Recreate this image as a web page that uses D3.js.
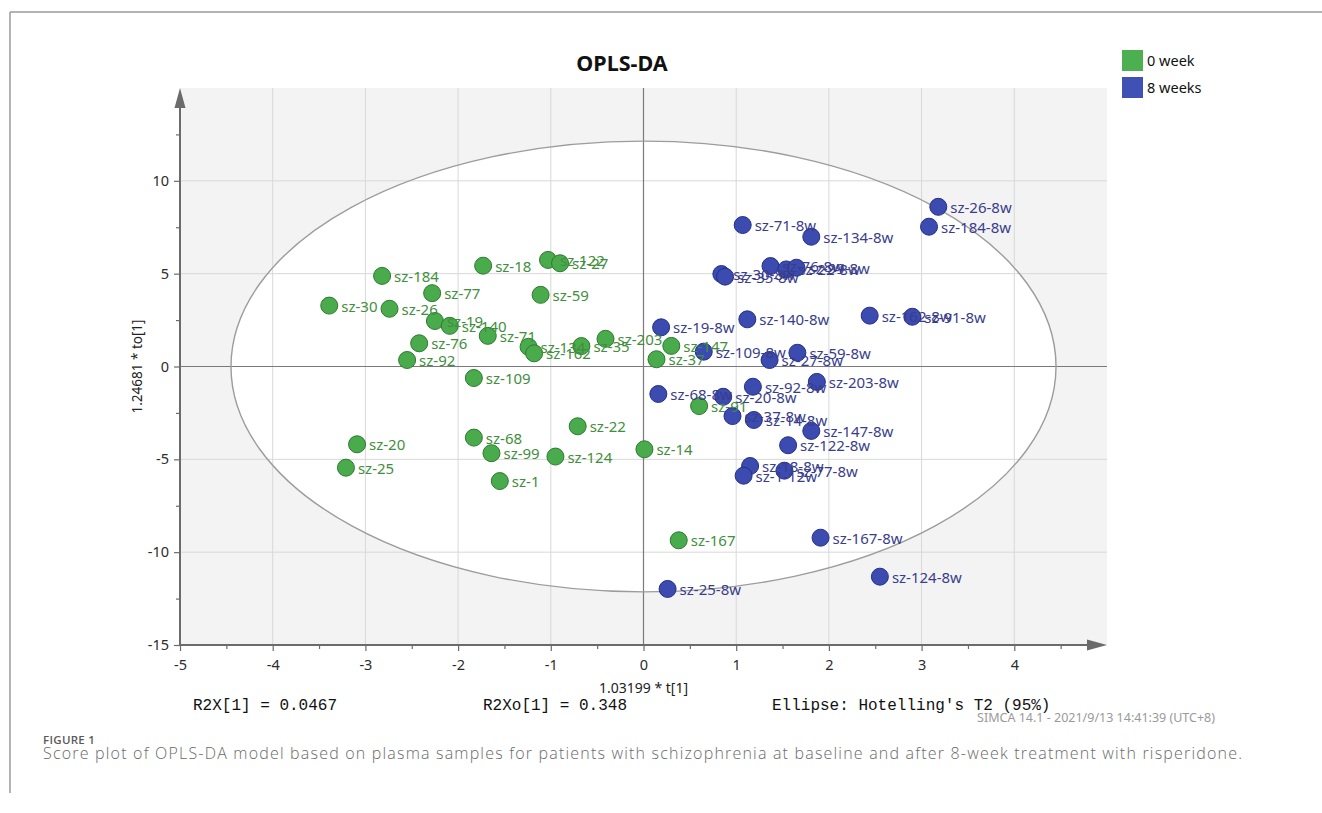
<!DOCTYPE html>
<html>
<head>
<meta charset="utf-8">
<script src="https://cdn.jsdelivr.net/npm/d3@7"></script>
<style>
  html, body { margin: 0; padding: 0; background: #fff; }
  svg { display: block; }
</style>
</head>
<body>
<svg id="chart" width="1322" height="813"></svg>
<script>
// Score values: predictive (t[1]) and orthogonal (to[1]) components
const week0Names = ["sz-184","sz-30","sz-26","sz-77","sz-19","sz-140","sz-76","sz-92","sz-18","sz-122",
  "sz-27","sz-59","sz-71","sz-134","sz-162","sz-35","sz-203","sz-147","sz-37","sz-109",
  "sz-91","sz-22","sz-14","sz-68","sz-99","sz-124","sz-1","sz-20","sz-25","sz-167"];
const week0T = [-2.82,-3.39,-2.74,-2.28,-2.25,-2.09,-2.42,-2.55,-1.73,-1.03,
  -0.90,-1.11,-1.68,-1.24,-1.18,-0.67,-0.41,0.30,0.14,-1.83,
  0.60,-0.71,0.01,-1.83,-1.64,-0.95,-1.55,-3.09,-3.21,0.38];
const week0To = [4.88,3.28,3.11,3.95,2.45,2.19,1.25,0.35,5.43,5.74,
  5.56,3.86,1.65,1.06,0.71,1.10,1.49,1.11,0.39,-0.62,
  -2.13,-3.22,-4.46,-3.83,-4.67,-4.85,-6.17,-4.19,-5.45,-9.36];

const week8Names = ["sz-26-8w","sz-184-8w","sz-71-8w","sz-134-8w","sz-30-8w","sz-35-8w","sz-76-8w","sz-22-8w","sz-99-8w","sz-140-8w",
  "sz-162-8w","sz-91-8w","sz-19-8w","sz-109-8w","sz-59-8w","sz-27-8w","sz-92-8w","sz-203-8w","sz-68-8w","sz-20-8w",
  "sz-37-8w","sz-14-8w","sz-147-8w","sz-122-8w","sz-18-8w","sz-1-12w","sz-77-8w","sz-167-8w","sz-124-8w","sz-25-8w"];
const week8T = [3.18,3.08,1.07,1.81,0.84,0.88,1.37,1.54,1.65,1.12,
  2.44,2.90,0.19,0.65,1.66,1.36,1.18,1.87,0.16,0.86,
  0.96,1.19,1.81,1.56,1.15,1.08,1.52,1.91,2.55,0.26];
const week8To = [8.60,7.53,7.62,6.99,4.98,4.84,5.41,5.23,5.32,2.54,
  2.74,2.68,2.11,0.80,0.74,0.35,-1.09,-0.83,-1.48,-1.63,
  -2.67,-2.88,-3.47,-4.24,-5.36,-5.88,-5.61,-9.22,-11.32,-11.98];

const groupNames = ["0 week", "8 weeks"];
const xTicks = [-5,-4,-3,-2,-1,0,1,2,3,4];
const yTicks = [-15,-10,-5,0,5,10];
// Hotelling's T2 (95%) ellipse semi-axes in score units
const ellipseA = 4.45;
const ellipseB = 12.14;
const r2xText = "R2X[1] = 0.0467";
const r2xoText = "R2Xo[1] = 0.348";
const ellipseText = "Ellipse: Hotelling's T2 (95%)";

const svg = d3.select("#chart");
const x = d3.scaleLinear().domain([-5, 5]).range([180, 1107]);
const y = d3.scaleLinear().domain([-15, 15]).range([645, 88]);

const colors = {
  fill: ["#4aab4c", "#3b4bb0"],
  stroke: ["#2c7a30", "#252f86"],
  text: ["#3f8f3c", "#393d8c"],
  legend: ["#4caf50", "#3f51b5"]
};

// figure frame
svg.append("line").attr("x1", 10).attr("x2", 1322).attr("y1", 12).attr("y2", 12)
  .attr("stroke", "#9a9a9a").attr("stroke-width", 1.5);
svg.append("line").attr("x1", 10).attr("x2", 10).attr("y1", 12).attr("y2", 793)
  .attr("stroke", "#9a9a9a").attr("stroke-width", 1.5);

const plot = svg.append("g");

// plot background outside the ellipse
plot.append("rect")
  .attr("x", x(-5)).attr("y", y(15))
  .attr("width", x(5) - x(-5)).attr("height", y(-15) - y(15))
  .attr("fill", "#f3f3f3");

plot.append("ellipse")
  .attr("cx", x(0)).attr("cy", y(0))
  .attr("rx", x(ellipseA) - x(0)).attr("ry", y(0) - y(ellipseB))
  .attr("fill", "#ffffff");

// grid
plot.selectAll("line.vgrid").data(d3.range(-4, 5).filter(d => d !== 0)).join("line")
  .attr("x1", d => x(d)).attr("x2", d => x(d))
  .attr("y1", y(15)).attr("y2", y(-15))
  .attr("stroke", "#d8d8d8").attr("stroke-width", 1);
plot.selectAll("line.hgrid").data([-10, -5, 5, 10]).join("line")
  .attr("x1", x(-5)).attr("x2", x(5))
  .attr("y1", d => y(d)).attr("y2", d => y(d))
  .attr("stroke", "#d8d8d8").attr("stroke-width", 1);

// zero lines
plot.append("line").attr("x1", x(0)).attr("x2", x(0)).attr("y1", y(15)).attr("y2", y(-15))
  .attr("stroke", "#7a7a7a").attr("stroke-width", 1.2);
plot.append("line").attr("x1", x(-5)).attr("x2", x(5)).attr("y1", y(0)).attr("y2", y(0))
  .attr("stroke", "#7a7a7a").attr("stroke-width", 1.2);

plot.append("ellipse")
  .attr("cx", x(0)).attr("cy", y(0))
  .attr("rx", x(ellipseA) - x(0)).attr("ry", y(0) - y(ellipseB))
  .attr("fill", "none").attr("stroke", "#9c9c9c").attr("stroke-width", 1.4);

// axes
const axisColor = "#6b6b6b";
const plainNum = d => String(d);
const xAxis = d3.axisBottom(x).tickValues(xTicks).tickSize(6).tickPadding(9).tickFormat(plainNum);
const gx = svg.append("g").attr("transform", `translate(0,${y(-15)})`).call(xAxis);
gx.select(".domain").remove();
const xMinor = d3.axisBottom(x).tickValues(d3.range(-4.5, 5, 1)).tickSize(4).tickFormat("");
const gxm = svg.append("g").attr("transform", `translate(0,${y(-15)})`).call(xMinor);
gxm.select(".domain").remove();

const yAxis = d3.axisLeft(y).tickValues(yTicks).tickSize(6).tickPadding(5).tickFormat(plainNum);
const gy = svg.append("g").attr("transform", `translate(${x(-5)},0)`).call(yAxis);
gy.select(".domain").remove();
const yMinor = d3.axisLeft(y).tickValues([-12.5, -7.5, -2.5, 2.5, 7.5, 12.5]).tickSize(4).tickFormat("");
const gym = svg.append("g").attr("transform", `translate(${x(-5)},0)`).call(yMinor);
gym.select(".domain").remove();

svg.selectAll(".tick line").attr("stroke", axisColor).attr("stroke-width", 1.2);
svg.selectAll(".tick text")
  .attr("font-family", "'Noto Sans', sans-serif").attr("font-size", 14.5).attr("fill", "#2b2b2b");

// axis lines with arrow heads
svg.append("line").attr("x1", x(-5)).attr("x2", x(5) - 18).attr("y1", y(-15)).attr("y2", y(-15))
  .attr("stroke", axisColor).attr("stroke-width", 2);
svg.append("path")
  .attr("d", `M${x(5)},${y(-15)} L${x(5) - 20},${y(-15) - 5.5} L${x(5) - 20},${y(-15) + 5.5} Z`)
  .attr("fill", axisColor);
svg.append("line").attr("x1", x(-5)).attr("x2", x(-5)).attr("y1", y(-15)).attr("y2", y(15) + 18)
  .attr("stroke", axisColor).attr("stroke-width", 2);
svg.append("path")
  .attr("d", `M${x(-5)},${y(15)} L${x(-5) - 5.5},${y(15) + 20} L${x(-5) + 5.5},${y(15) + 20} Z`)
  .attr("fill", axisColor);

// points
const groups = [
  week0Names.map((n, i) => ({ name: n, t: week0T[i], to: week0To[i], g: 0 })),
  week8Names.map((n, i) => ({ name: n, t: week8T[i], to: week8To[i], g: 1 }))
];
const all = groups[0].concat(groups[1]);

const pts = svg.append("g");
pts.selectAll("circle").data(all).join("circle")
  .attr("cx", d => x(d.t)).attr("cy", d => y(d.to)).attr("r", 8.5)
  .attr("fill", d => colors.fill[d.g]).attr("stroke", d => colors.stroke[d.g]).attr("stroke-width", 1);

pts.selectAll("text").data(all).join("text")
  .attr("x", d => x(d.t) + 12).attr("y", d => y(d.to) + 6)
  .attr("font-family", "'Noto Sans', sans-serif").attr("font-size", 15)
  .attr("fill", d => colors.text[d.g])
  .text(d => d.name);

// title
svg.append("text").attr("x", 622).attr("y", 71).attr("text-anchor", "middle")
  .attr("font-family", "'Noto Sans', sans-serif").attr("font-weight", "bold").attr("font-size", 21.5)
  .attr("fill", "#111").text("OPLS-DA");

// legend
const legend = svg.append("g").attr("transform", "translate(1122,50)");
groupNames.forEach((name, i) => {
  legend.append("rect").attr("x", 0).attr("y", i * 27).attr("width", 21).attr("height", 21)
    .attr("fill", colors.legend[i]);
  legend.append("text").attr("x", 25).attr("y", i * 27 + 16)
    .attr("font-family", "'Noto Sans', sans-serif").attr("font-size", 14.5).attr("fill", "#111")
    .text(name);
});

// axis titles
svg.append("text").attr("x", x(0)).attr("y", 693).attr("text-anchor", "middle")
  .attr("font-family", "'Noto Sans', sans-serif").attr("font-size", 14).attr("fill", "#222")
  .text("1.03199 * t[1]");
svg.append("text")
  .attr("transform", `translate(142,${y(0)}) rotate(-90)`)
  .attr("text-anchor", "middle")
  .attr("font-family", "'Noto Sans', sans-serif").attr("font-size", 13.5).attr("fill", "#222")
  .text("1.24681 * to[1]");

// model statistics
const mono = "'Liberation Mono', 'DejaVu Sans Mono', monospace";
[[193, r2xText], [483, r2xoText], [772, ellipseText]].forEach(([px, t]) => {
  svg.append("text").attr("x", px).attr("y", 710)
    .attr("font-family", mono).attr("font-size", 16).attr("fill", "#111").text(t);
});
svg.append("text").attr("x", 1215).attr("y", 722).attr("text-anchor", "end")
  .attr("font-family", "'Noto Sans', sans-serif").attr("font-size", 12.5).attr("fill", "#9a9a9a")
  .text("SIMCA 14.1 - 2021/9/13 14:41:39 (UTC+8)");

// figure caption
svg.append("text").attr("x", 43).attr("y", 744)
  .attr("font-family", "'Open Sans', sans-serif").attr("font-weight", 600).attr("font-size", 11.5)
  .attr("fill", "#5a5a5a").attr("letter-spacing", 0.3).text("FIGURE 1");
svg.append("text").attr("x", 43).attr("y", 759)
  .attr("font-family", "'Open Sans', sans-serif").attr("font-weight", 300).attr("font-size", 16)
  .attr("fill", "#6a6a6a")
  .attr("textLength", 1199).attr("lengthAdjust", "spacing")
  .text("Score plot of OPLS-DA model based on plasma samples for patients with schizophrenia at baseline and after 8-week treatment with risperidone.");
</script>
</body>
</html>
